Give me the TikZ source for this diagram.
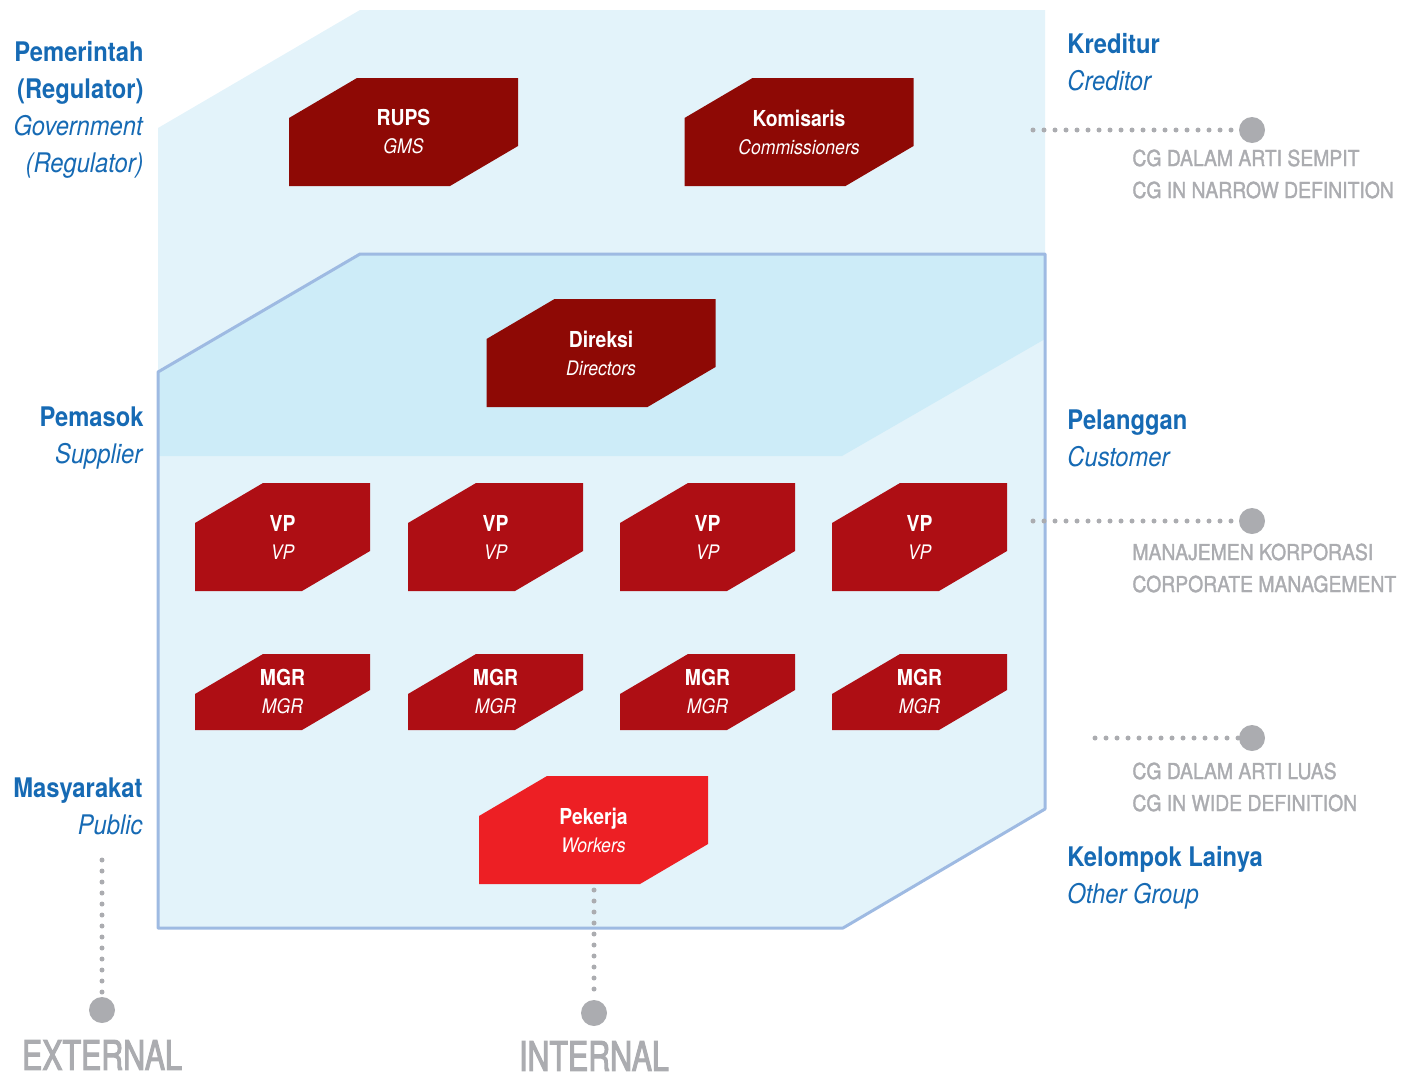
\documentclass[tikz,border=0pt]{standalone}
\usepackage{fontspec}
\setmainfont[FakeStretch=0.88]{TeX Gyre Heros}
\newfontfamily\medfont[FakeStretch=0.88, FakeBold=1.5]{TeX Gyre Heros}
\newfontfamily\condfont[FakeStretch=0.74, FakeBold=2.5]{TeX Gyre Heros}
\usepackage{tikz}
\usetikzlibrary{positioning}
\definecolor{mpanel}{RGB}{227,243,250}
\definecolor{mband}{RGB}{205,236,248}
\definecolor{medge}{RGB}{158,186,226}
\definecolor{mblue}{RGB}{22,106,180}
\definecolor{mgray}{RGB}{171,172,176}
\definecolor{mdark}{RGB}{142,9,5}
\definecolor{mred}{RGB}{174,14,20}
\definecolor{mbright}{RGB}{237,31,36}
\tikzset{orgbox/.style = {inner sep = 0, minimum width = 114.5pt, minimum height = 54pt, text = white, align = center,
    font = \fontsize{11}{14}\selectfont,
    path picture = {\fill [#1] ([yshift=-20pt]path picture bounding box.north west) -- ([xshift=34pt]path picture bounding box.north west)
      -- (path picture bounding box.north east) -- ([yshift=20pt]path picture bounding box.south east)
      -- ([xshift=-34pt]path picture bounding box.south east) -- (path picture bounding box.south west) -- cycle;}}}
\tikzset{sidelabel/.style = {inner sep = 0, text = mblue, font = \fontsize{13.5}{18.5}\selectfont}}
\tikzset{graylabel/.style = {inner sep = 0, text = mgray, anchor = west, align = left, font = \medfont\fontsize{11}{16}\selectfont}}
\tikzset{biglabel/.style = {inner sep = 0, text = mgray, font = \condfont\fontsize{20.5}{24}\selectfont}}
\tikzset{dotline/.style = {mgray, line width = 2.5pt, line cap = round, dash pattern = on 0pt off 5.5pt}}
\tikzset{dotend/.style = {fill = mgray, circle, inner sep = 0, minimum size = 13pt}}
\newcommand{\sublabel}[1]{{\fontsize{10}{14}\selectfont\itshape #1}}

\begin{document}
\begin{tikzpicture}[x=0.5pt, y=-0.5pt]
    \useasboundingbox (0, 0) rectangle (1411, 1077);

    \fill [mpanel] (158, 128) -- (360, 10) -- (1045, 10) -- (1045, 809) -- (843, 928) -- (158, 928) -- cycle;
    \fill [mband] (158, 372) -- (360, 254) -- (1045, 254) -- (1045, 339) -- (842, 456) -- (158, 456) -- cycle;
    \draw [medge, line width=1.5pt, line join=round] (158, 372) -- (360, 254) -- (1045, 254) -- (1045, 809) -- (843, 928) -- (158, 928) -- cycle;

    \node [orgbox=mdark] (rups) at (403.5, 132) {\textbf{RUPS}\\\sublabel{GMS}};
    \node [orgbox=mdark] (komisaris) at (799, 132) {\textbf{Komisaris}\\\sublabel{Commissioners}};
    \node [orgbox=mdark] (direksi) at (601, 353) {\textbf{Direksi}\\\sublabel{Directors}};
    \foreach \x [count=\i] in {282.5, 495.5, 707.5, 919.5}{
      \node [orgbox=mred, minimum width=87.5pt] (vp\i) at (\x, 537) {\textbf{VP}\\\sublabel{VP}};
      \node [orgbox=mred, minimum width=87.5pt, minimum height=38pt] (mgr\i) at (\x, 692) {\textbf{MGR}\\\sublabel{MGR}};
    }
    \node [orgbox=mbright] (pekerja) at (593.5, 830) {\textbf{Pekerja}\\\sublabel{Workers}};

    \node [sidelabel, anchor=east, align=right] (pemerintah) at (144, 110) {\textbf{Pemerintah}\\\textbf{(Regulator)}\\\textit{Government}\\\textit{(Regulator)}};
    \node [sidelabel, anchor=east, align=right] (pemasok) at (144, 438) {\textbf{Pemasok}\\\textit{Supplier}};
    \node [sidelabel, anchor=east, align=right] (masyarakat) at (143, 806) {\textbf{Masyarakat}\\\textit{Public}};
    \node [sidelabel, anchor=west, align=left] (kreditur) at (1067, 62) {\textbf{Kreditur}\\\textit{Creditor}};
    \node [sidelabel, anchor=west, align=left] (pelanggan) at (1067, 438) {\textbf{Pelanggan}\\\textit{Customer}};
    \node [sidelabel, anchor=west, align=left] (kelompok) at (1067, 878) {\textbf{Kelompok Lainya}\\\textit{Other Group}};

    \node [graylabel] (sempit) at (1132, 174) {CG DALAM ARTI SEMPIT\\CG IN NARROW DEFINITION};
    \node [graylabel] (korporasi) at (1132, 568) {MANAJEMEN KORPORASI\\CORPORATE MANAGEMENT};
    \node [graylabel] (luas) at (1132, 787) {CG DALAM ARTI LUAS\\CG IN WIDE DEFINITION};

    \node [dotend] (narrowdot) at (1252, 130) {};
    \node [dotend] (corpdot) at (1252, 521) {};
    \node [dotend] (widedot) at (1252, 738) {};
    \node [dotend] (extdot) at (102, 1010) {};
    \node [dotend] (intdot) at (594, 1013) {};
    \coordinate (narrowstart) at (1033, 130);
    \coordinate (corpstart) at (1033, 521);
    \coordinate (widestart) at (1095, 738);
    \coordinate (extstart) at (102, 860);
    \coordinate (intstart) at (594, 890);
    \draw [dotline] (narrowstart) -- (narrowdot);
    \draw [dotline] (corpstart) -- (corpdot);
    \draw [dotline] (widestart) -- (widedot);
    \draw [dotline] (extstart) -- (extdot);
    \draw [dotline] (intstart) -- (intdot);

    \node [biglabel] (external) at (102, 1055) {EXTERNAL};
    \node [biglabel] (internal) at (594, 1056) {INTERNAL};
  \end{tikzpicture}
\end{document}
